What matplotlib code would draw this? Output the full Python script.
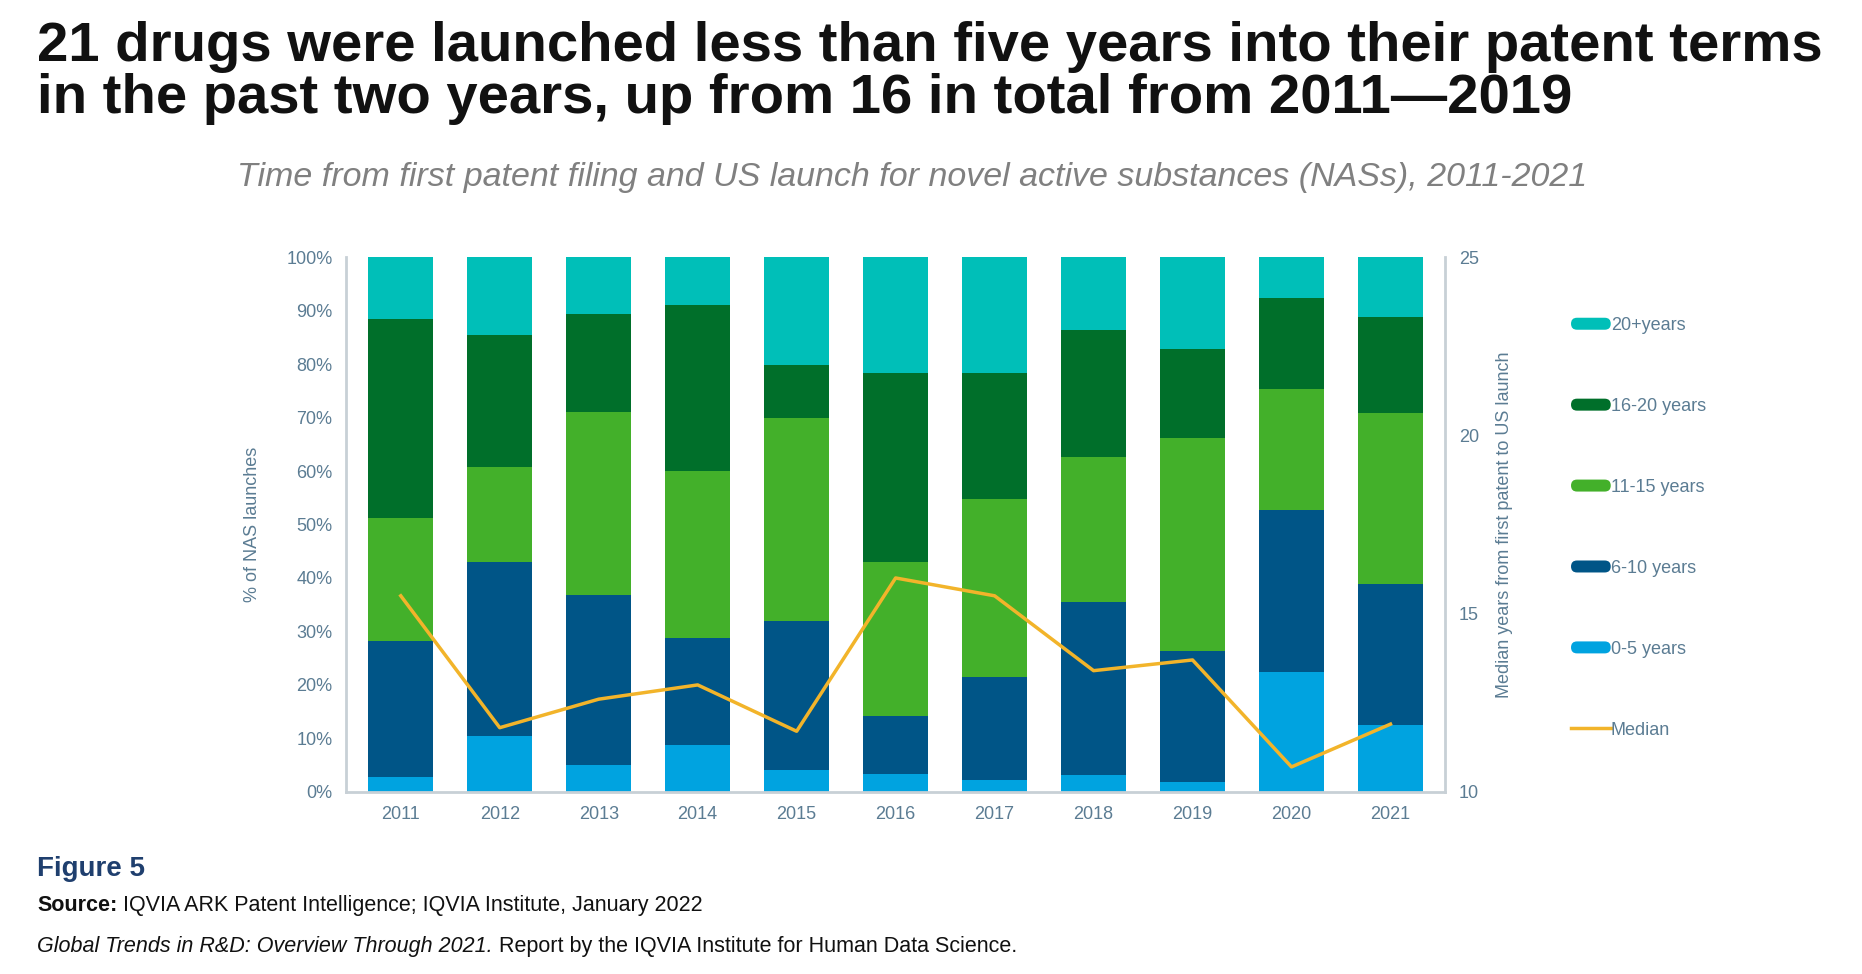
import matplotlib
matplotlib.use("Agg")
import matplotlib.pyplot as plt
from matplotlib.patches import FancyBboxPatch
from matplotlib.lines import Line2D
from matplotlib.legend_handler import HandlerPatch

years = ["2011","2012","2013","2014","2015","2016","2017","2018","2019","2020","2021"]
p0_5   = [2.7, 10.5, 5.1, 8.7, 4.0, 3.3, 2.2, 3.1, 1.8, 22.5, 12.5]
p6_10  = [25.6, 32.4, 31.7, 20.1, 27.9, 10.8, 19.2, 32.4, 24.5, 30.2, 26.3]
p11_15 = [23.0, 17.8, 34.2, 31.2, 38.0, 28.8, 33.3, 27.2, 39.8, 22.7, 32.0]
p16_20 = [37.1, 24.8, 18.3, 31.1, 10.0, 35.4, 23.6, 23.7, 16.7, 17.0, 18.0]
p20p   = [11.6, 14.5, 10.7, 8.9, 20.1, 21.7, 21.7, 13.6, 17.2, 7.6, 11.2]
median = [15.5, 11.8, 12.6, 13.0, 11.7, 16.0, 15.5, 13.4, 13.7, 10.7, 11.9]

series = [("0-5 years", p0_5, "#00A3E0"), ("6-10 years", p6_10, "#005587"),
          ("11-15 years", p11_15, "#43B02A"), ("16-20 years", p16_20, "#006F2A"),
          ("20+years", p20p, "#00BFB8")]
tick_c = "#5B7C93"

plt.rcParams['font.family'] = ['Liberation Sans', 'DejaVu Sans']
fig = plt.figure(figsize=(18.62, 9.74), dpi=100)
ax = fig.add_axes([0.186, 0.187, 0.59, 0.549])
x = range(len(years))
bottom = [0]*len(years)
for name, vals, c in series:
    ax.bar(x, vals, bottom=bottom, width=0.66, color=c, label=name, zorder=2)
    bottom = [b+v for b, v in zip(bottom, vals)]
ax.set_ylim(0, 100)
ax.set_xlim(-0.55, 10.55)
ax.set_yticks(range(0, 101, 10))
ax.set_yticklabels([f"{v}%" for v in range(0, 101, 10)])
ax.set_xticks(list(x))
ax.set_xticklabels(years)
ax.tick_params(colors=tick_c, labelsize=13, length=0, pad=10)
ax.spines["top"].set_visible(False)
for s in ["left", "right", "bottom"]:
    ax.spines[s].set_color("#C8D0D6")
    ax.spines[s].set_linewidth(2)
ax.set_ylabel("% of NAS launches", color=tick_c, fontsize=13, labelpad=18)

ax2 = ax.twinx()
ax2.plot(list(x), median, color="#F2B42A", lw=2.5, zorder=5)
ax2.set_ylim(10, 25)
ax2.set_yticks([10, 15, 20, 25])
ax2.tick_params(colors=tick_c, labelsize=13, length=0, pad=10)
for s in ["top", "left", "right", "bottom"]:
    ax2.spines[s].set_visible(False)
ax2.set_ylabel("Median years from first patent to US launch", color=tick_c, fontsize=13, labelpad=12)

class RoundHandler(HandlerPatch):
    def create_artists(self, legend, orig, xd, yd, w, h, fs, trans):
        p = FancyBboxPatch((-xd, -yd + h*0.1), w, h*0.8, boxstyle="round,pad=0,rounding_size=%f" % (h*0.4),
                           facecolor=orig.get_facecolor(), edgecolor="none", transform=trans)
        return [p]

from matplotlib.patches import Rectangle
handles = [Rectangle((0, 0), 1, 1, facecolor=c, label=n) for n, _, c in reversed(series)]
handles.append(Line2D([0], [0], color="#F2B42A", lw=2.5, label="Median"))
leg = fig.legend(handles=handles, loc="upper left", bbox_to_anchor=(0.835, 0.692),
                 frameon=False, fontsize=13, labelspacing=3.5, handlelength=2.2,
                 handleheight=0.9, handletextpad=0.0,
                 handler_map={Rectangle: RoundHandler()})
for t in leg.get_texts():
    t.set_color(tick_c)

fig.text(0.02, 0.978, "21 drugs were launched less than five years into their patent terms\nin the past two years, up from 16 in total from 2011\u20142019",
         fontsize=40.5, fontweight="bold", va="top", ha="left", color="#111111", linespacing=1.0)
fig.text(0.49, 0.818, "Time from first patent filing and US launch for novel active substances (NASs), 2011-2021",
         fontsize=24.5, style="italic", color="#808080", ha="center", va="center")
fig.text(0.02, 0.108, "Figure 5", fontsize=20, fontweight="bold", color="#1F3F6E", va="center")

fig.canvas.draw()
r = fig.canvas.get_renderer()
def chain(y, parts):
    xx = 0.02
    for txt, kw in parts:
        t = fig.text(xx, y, txt, fontsize=15.5, color="#111111", va="center", **kw)
        bb = t.get_window_extent(renderer=r)
        xx = bb.x1 / fig.bbox.width
chain(0.07, [("Source:", {"fontweight": "bold"}),
             (" IQVIA ARK Patent Intelligence; IQVIA Institute, January 2022", {})])
chain(0.028, [("Global Trends in R&D: Overview Through 2021.", {"style": "italic"}),
              (" Report by the IQVIA Institute for Human Data Science.", {})])
fig.savefig("out.png", dpi=100)
